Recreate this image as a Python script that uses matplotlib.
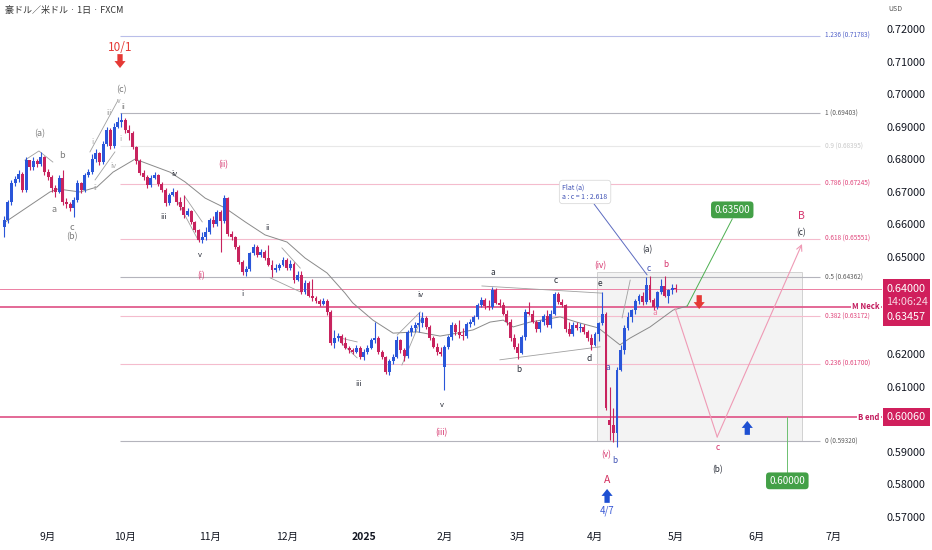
import numpy as np
import pandas as pd
import matplotlib
matplotlib.use("Agg")
import matplotlib.pyplot as plt
from matplotlib.transforms import blended_transform_factory
from matplotlib.patches import Rectangle

plt.rcParams['font.family'] = ['Noto Sans CJK JP', 'DejaVu Sans']

# daily bars (FXCM, no Christmas / New Year bar), price in pips (x 1e-4)
opens = [
    6590, 6613, 6668, 6727, 6740, 6755, 6705, 6797, 6775, 6795, 6786, 6808,
    6760, 6745, 6710, 6700, 6742, 6668, 6662, 6650, 6674, 6727, 6705, 6751, 6760, 6800, 6818, 6790, 6845, 6890, 6840, 6900, 6915,
    6920, 6890, 6880, 6837, 6795, 6757, 6745, 6720, 6742, 6750, 6725, 6705, 6665, 6690, 6700, 6668, 6653, 6628, 6640, 6607, 6582, 6551, 6560,
    6575, 6613, 6600, 6637, 6610, 6680, 6570, 6560, 6530, 6484, 6453, 6462, 6511, 6530, 6505, 6515, 6496, 6475, 6460, 6465, 6475,
    6490, 6465, 6478, 6428, 6445, 6390, 6420, 6380, 6372, 6365, 6355, 6365, 6330, 6236, 6250, 6255, 6235, 6220, 6212, 6208, 6220,
    6192, 6207, 6219, 6244, 6250, 6207, 6192, 6146, 6178, 6192, 6244, 6213, 6195, 6269, 6281, 6290, 6296, 6312, 6284, 6250, 6223, 6207,
    6161, 6223, 6253, 6290, 6268, 6258, 6255, 6293, 6300, 6315, 6352, 6368, 6348, 6345, 6398, 6358, 6352, 6325, 6300, 6250,
    6222, 6205, 6253, 6330, 6325, 6300, 6278, 6298, 6318, 6290, 6325, 6385, 6360, 6350, 6278, 6262, 6290, 6280, 6285, 6270, 6250,
    6230, 6262, 6295, 6325, 5998, 5983, 5958, 6152, 6213, 6280, 6315, 6335, 6365, 6380, 6360, 6413, 6368, 6345, 6392, 6410, 6380, 6398,
    6405,
]
highs = [
    6625, 6675, 6735, 6748, 6765, 6760, 6805, 6798, 6805, 6800, 6822, 6810,
    6770, 6750, 6720, 6750, 6767, 6680, 6668, 6685, 6735, 6730, 6758, 6770, 6815, 6830, 6822, 6855, 6900, 6895, 6910, 6930, 6942,
    6925, 6905, 6885, 6840, 6800, 6765, 6750, 6750, 6760, 6755, 6730, 6710, 6695, 6710, 6705, 6682, 6690, 6650, 6645, 6610, 6585, 6575, 6590,
    6620, 6625, 6645, 6645, 6690, 6685, 6580, 6565, 6535, 6490, 6470, 6515, 6540, 6535, 6525, 6520, 6536, 6490, 6478, 6480, 6500,
    6495, 6490, 6485, 6455, 6455, 6428, 6425, 6430, 6380, 6370, 6372, 6370, 6335, 6275, 6265, 6262, 6252, 6225, 6220, 6228, 6225,
    6215, 6228, 6250, 6299, 6255, 6212, 6195, 6185, 6200, 6255, 6248, 6220, 6275, 6290, 6300, 6330, 6330, 6318, 6290, 6255, 6235, 6222,
    6230, 6260, 6300, 6295, 6305, 6280, 6300, 6310, 6320, 6358, 6375, 6372, 6368, 6408, 6405, 6370, 6360, 6335, 6310, 6262,
    6235, 6260, 6340, 6362, 6335, 6305, 6305, 6325, 6335, 6335, 6392, 6390, 6370, 6355, 6300, 6300, 6300, 6295, 6292, 6275, 6262,
    6270, 6300, 6392, 6330, 6100, 6035, 6160, 6230, 6290, 6330, 6340, 6370, 6385, 6390, 6438, 6440, 6372, 6395, 6430, 6440, 6400, 6415,
    6415,
]
lows = [
    6561, 6605, 6660, 6718, 6730, 6698, 6700, 6765, 6768, 6775, 6780, 6752,
    6735, 6700, 6684, 6695, 6660, 6650, 6640, 6622, 6668, 6695, 6700, 6745, 6755, 6790, 6782, 6785, 6840, 6830, 6835, 6895, 6900,
    6880, 6860, 6830, 6785, 6750, 6735, 6710, 6715, 6738, 6718, 6698, 6655, 6660, 6688, 6660, 6645, 6620, 6625, 6600, 6575, 6545, 6542, 6550,
    6570, 6590, 6595, 6515, 6605, 6565, 6550, 6525, 6478, 6444, 6440, 6455, 6505, 6500, 6498, 6490, 6470, 6438, 6452, 6458, 6470,
    6460, 6458, 6420, 6425, 6385, 6385, 6375, 6365, 6358, 6348, 6350, 6322, 6230, 6220, 6240, 6230, 6215, 6205, 6200, 6203, 6185,
    6183, 6200, 6215, 6235, 6200, 6185, 6140, 6136, 6170, 6188, 6205, 6180, 6190, 6255, 6270, 6270, 6285, 6278, 6243, 6218, 6198, 6195,
    6090, 6215, 6245, 6260, 6250, 6245, 6250, 6285, 6290, 6310, 6345, 6340, 6335, 6340, 6355, 6345, 6320, 6290, 6240, 6215,
    6187, 6200, 6245, 6320, 6295, 6270, 6270, 6290, 6285, 6280, 6320, 6355, 6345, 6270, 6255, 6255, 6275, 6270, 6262, 6240, 6212,
    6225, 6240, 6290, 6030, 5935, 5930, 5915, 6150, 6200, 6275, 6300, 6325, 6355, 6350, 6355, 6360, 6335, 6340, 6385, 6375, 6358, 6385,
    6392,
]
closes = [
    6613, 6668, 6727, 6740, 6755, 6705, 6797, 6775, 6795, 6786, 6808, 6760,
    6745, 6710, 6700, 6742, 6668, 6662, 6650, 6674, 6727, 6705, 6751, 6760, 6800, 6818, 6790, 6845, 6890, 6840, 6900, 6915, 6920,
    6890, 6880, 6837, 6795, 6757, 6745, 6720, 6742, 6750, 6725, 6705, 6665, 6690, 6700, 6668, 6653, 6628, 6640, 6607, 6582, 6551, 6560, 6575,
    6613, 6600, 6637, 6610, 6680, 6570, 6560, 6530, 6484, 6453, 6462, 6511, 6530, 6505, 6515, 6496, 6475, 6460, 6465, 6475, 6490,
    6465, 6478, 6428, 6445, 6390, 6420, 6380, 6372, 6365, 6355, 6365, 6330, 6236, 6250, 6255, 6235, 6220, 6212, 6208, 6220, 6192,
    6207, 6219, 6244, 6250, 6207, 6192, 6146, 6178, 6192, 6244, 6213, 6195, 6269, 6281, 6290, 6296, 6312, 6284, 6250, 6223, 6207, 6200,
    6223, 6253, 6290, 6268, 6258, 6255, 6293, 6300, 6315, 6352, 6368, 6348, 6345, 6398, 6358, 6352, 6325, 6300, 6250, 6222,
    6205, 6253, 6330, 6325, 6300, 6278, 6298, 6318, 6290, 6325, 6385, 6360, 6350, 6278, 6262, 6290, 6280, 6285, 6270, 6250, 6230,
    6262, 6295, 6325, 6035, 5983, 5958, 6152, 6213, 6280, 6315, 6335, 6365, 6380, 6360, 6413, 6368, 6345, 6392, 6410, 6380, 6398, 6405,
    6400,
]

# higher-timeframe average (bar index, price)
ma_bar = [0, 12.5, 14.7, 20.7, 25.3, 29.7, 35.7, 45.2, 49.3, 54.8, 60.2, 65.7, 71.1, 77.1, 82, 88,
          92.9, 95, 100.5, 106, 112.5, 118.8, 123.4, 127.8, 132.4, 136, 138.7, 143.3, 151.5, 156,
          161.9, 164.3, 167.8, 170.6, 176, 182.3, 186]
ma_val = [0.6604, 0.6699, 0.6708, 0.6699, 0.6714, 0.6760, 0.6800, 0.6760, 0.6730, 0.6680, 0.6650,
          0.6607, 0.6567, 0.6545, 0.6496, 0.6450, 0.6388, 0.6358, 0.6305, 0.6265, 0.6269, 0.6256,
          0.6265, 0.6275, 0.6299, 0.6305, 0.6284, 0.6299, 0.6315, 0.6299, 0.6281, 0.6260, 0.6229,
          0.6250, 0.6284, 0.6336, 0.6348]

fib_levels = [1.236, 1, 0.9, 0.786, 0.618, 0.5, 0.382, 0.236, 0]
fib_prices = [0.71783, 0.69403, 0.68395, 0.67245, 0.65551, 0.64362, 0.63172, 0.61700, 0.59320]
fib_line_col = ['#b9bee9', '#b4b4bc', '#e8e8e8', '#f4bccd', '#f4bccd', '#b4b4bc', '#f4bccd', '#f4bccd', '#b4b4bc']
fib_text_col = ['#5060c8', '#5a5a5a', '#c8c8c8', '#e0457b', '#e0457b', '#5a5a5a', '#e0457b', '#e0457b', '#5a5a5a']

# axis ticks (the ones covered by the price tags are left out)
price_ticks = [0.57, 0.58, 0.59, 0.61, 0.62, 0.65, 0.66, 0.67, 0.68, 0.69, 0.70, 0.71, 0.72]

last_price = 0.64000
m_neck = 0.63457
b_end = 0.60060
target_up = 0.63500
target_down = 0.60000

UP = '#2a56d9'
DOWN = '#c8235e'
PINK = '#d6336c'
DARK = '#2a2e39'
GRAY = '#7a7a7a'
LIGHT = '#a8a8a8'
BLUE = '#3f51b5'

o = np.array(opens) / 1e4
h = np.array(highs) / 1e4
l = np.array(lows) / 1e4
c = np.array(closes) / 1e4
x = np.arange(len(c))

days = pd.bdate_range('2024-08-15', '2025-07-31')
days = days[~days.isin(pd.to_datetime(['2024-12-25', '2025-01-01']))]

fig = plt.figure(figsize=(9.32, 5.5), dpi=100)
ax = fig.add_axes([0, 25 / 550, 882 / 932, 525 / 550])
ax.set_xlim(-1.1, 239.2)
ax.set_ylim(0.56752, 0.72891)
for s in ax.spines.values():
    s.set_visible(False)

# fib retracement
fib_start = int(np.argmax(h[:60])) - 0.4
for lv, p, lc, tc in zip(fib_levels, fib_prices, fib_line_col, fib_text_col):
    ax.hlines(p, fib_start, 222.3, color=lc, lw=0.8, zorder=1)
    ax.text(223.8, p, f"{lv:g} ({p:.5f})", color=tc, fontsize=4.6, va='center', ha='left')

# box around the recent range
ax.add_patch(Rectangle((161.6, fib_prices[-1]), 217.4 - 161.6, 0.6452 - fib_prices[-1],
                       fc='#efefef', ec='#c4c4c4', lw=0.7, alpha=0.75, zorder=0.5))

# horizontal key lines
ax.axhline(last_price, color='#ec7fa3', lw=0.7, zorder=1)
ax.axhline(m_neck, color='#e0588a', lw=1.4, alpha=0.9, zorder=1)
ax.axhline(b_end, color='#e0588a', lw=1.4, alpha=0.9, zorder=1)
ax.text(238.6, m_neck, 'M Neck', color='#c2185b', fontsize=5.5, style='italic', weight='bold',
        ha='right', va='center', bbox=dict(fc='white', ec='none', pad=1), zorder=5)
ax.text(238.6, b_end, 'B end', color='#c2185b', fontsize=5.5, style='italic', weight='bold',
        ha='right', va='center', bbox=dict(fc='white', ec='none', pad=1), zorder=5)

# average line
ax.plot(ma_bar, ma_val, color='#8a8a8a', lw=0.7, zorder=2)

# candles
col = np.where(c >= o, UP, DOWN)
ax.vlines(x, l, h, colors=col, lw=0.8, zorder=3)
ax.bar(x, np.maximum(np.abs(c - o), 0.0002), bottom=np.minimum(o, c), width=0.8,
       color=col, lw=0, zorder=4)

# drawn pattern lines
gray_lines = [
    [(5.7, 0.6797), (9.5, 0.6825), (13.3, 0.6791)],
    [(23.4, 0.6822), (31.1, 0.6982)],
    [(24.8, 0.6736), (30.2, 0.6822)],
    [(46.6, 0.6684), (52.9, 0.6551)],
    [(49.3, 0.6684), (54.0, 0.6607)],
    [(72.5, 0.6435), (80.7, 0.6392)],
    [(75.7, 0.6527), (80.7, 0.6465)],
    [(91.6, 0.6250), (96.2, 0.6238)],
    [(91.6, 0.6238), (96.2, 0.6189)],
    [(107.1, 0.6259), (113.4, 0.6330)],
    [(108.4, 0.6167), (113.9, 0.6315)],
    [(130.2, 0.6410), (162.9, 0.6388)],
    [(135.1, 0.6183), (162.4, 0.6223)],
    [(168.4, 0.6312), (170.6, 0.6428)],
]
for seg in gray_lines:
    xs, ys = zip(*seg)
    ax.plot(xs, ys, color='#a0a0a0', lw=0.6, zorder=2)

# projected path
proj_x = [182.8, 194.3]
proj_y = [0.6342, 0.5946]
ax.plot(proj_x, proj_y, color='#ef9ab5', lw=0.8, zorder=2)
ax.annotate('', xy=(217.4, 0.6539), xytext=(194.3, 0.5946),
            arrowprops=dict(arrowstyle='->', color='#ef9ab5', lw=0.8, shrinkA=0, shrinkB=0))

# targets
ax.plot([186.1, 198.4], [m_neck + 0.0002, 0.6616], color='#4caf50', lw=0.7, zorder=2)
ax.plot([213.4, 213.4], [b_end, 0.5838], color='#6cc070', lw=0.7, zorder=2)
ax.text(198.4, 0.6644, f"{target_up:.5f}", color='white', fontsize=7, ha='center', va='center',
        bbox=dict(boxstyle='round,pad=0.35', fc='#43a047', ec='none'), zorder=6)
ax.text(213.4, 0.5811, f"{target_down:.5f}", color='white', fontsize=7, ha='center', va='center',
        bbox=dict(boxstyle='round,pad=0.35', fc='#43a047', ec='none'), zorder=6)

# callout
ax.annotate("Flat (a)\na : c = 1 : 2.618", xy=(175.2, 0.6444), xytext=(158.3, 0.6699),
            fontsize=5, color=BLUE, ha='center', va='center', multialignment='left',
            bbox=dict(boxstyle='round,pad=0.45', fc='white', ec='#d4d4d4', lw=0.5),
            arrowprops=dict(arrowstyle='-', color='#5c6bc0', lw=0.7, shrinkA=0, shrinkB=0), zorder=6)

# block arrows
def arrow(xb, tip, direction, color):
    ax.annotate('', xy=(xb, tip), xytext=(0, -10 * direction), textcoords='offset points',
                arrowprops=dict(arrowstyle='simple,head_width=0.8,head_length=0.5,tail_width=0.38',
                                color=color, lw=0, shrinkA=0, shrinkB=0), zorder=7)

arrow(31.6, 0.7080, -1, '#e53935')
arrow(189.4, 0.6339, -1, '#e53935')
arrow(202.5, 0.5995, 1, '#1e50d2')
arrow(164.3, 0.5786, 1, '#1e50d2')
ax.text(31.6, 0.7142, '10/1', color='#e53935', fontsize=8.5, style='italic', ha='center', va='center')
ax.text(164.3, 0.5718, '4/7', color='#3a5ad6', fontsize=7, style='italic', ha='center', va='center')

# wave labels (text, bar, price, colour, size)
wave_labels = [
    ('(c)', 32, 0.7013, GRAY, 6.5), ('v', 31.3, 0.6979, LIGHT, 5), ('ii', 32.4, 0.6960, GRAY, 5),
    ('iii', 28.6, 0.6942, LIGHT, 5), ('i', 24, 0.6853, LIGHT, 5.5), ('i', 31.6, 0.6862, LIGHT, 5.5),
    ('iv', 29.7, 0.6779, LIGHT, 5.5), ('ii', 24.8, 0.6711, LIGHT, 5),
    ('(a)', 9.8, 0.6877, GRAY, 6.5), ('b', 15.8, 0.6810, GRAY, 6.5), ('a', 13.6, 0.6644, GRAY, 6.5),
    ('c', 18.5, 0.6591, GRAY, 6.5), ('(b)', 18.5, 0.6561, GRAY, 6.5),
    ('iii', 43.6, 0.6622, DARK, 5.5), ('iv', 46.3, 0.6754, DARK, 5.5), ('(ii)', 59.7, 0.6782, PINK, 6),
    ('ii', 71.7, 0.6588, DARK, 5.5), ('v', 53.4, 0.6505, DARK, 5.5), ('(i)', 53.7, 0.6441, PINK, 6),
    ('i', 64.9, 0.6385, DARK, 5.5), ('iii', 96.5, 0.6109, DARK, 5.5), ('iv', 113.4, 0.6382, DARK, 5.5),
    ('v', 119.3, 0.6044, DARK, 5.5), ('(iii)', 119.1, 0.5958, PINK, 6),
    ('a', 133.2, 0.6450, DARK, 6), ('b', 140.3, 0.6152, DARK, 6), ('c', 150.4, 0.6428, DARK, 6),
    ('d', 159.4, 0.6186, DARK, 6), ('e', 162.4, 0.6419, DARK, 6), ('(iv)', 162.4, 0.6471, PINK, 6),
    ('(a)', 175.2, 0.6521, DARK, 6), ('c', 175.5, 0.6465, BLUE, 6), ('b', 180.4, 0.6475, PINK, 6),
    ('a', 177.4, 0.6327, '#ef7fa3', 6), ('a', 164.6, 0.6158, BLUE, 6), ('(v)', 164.0, 0.5890, PINK, 6),
    ('b', 166.5, 0.5875, BLUE, 6), ('A', 164.3, 0.5814, '#d32f5f', 7.5),
    ('c', 194.3, 0.5912, PINK, 6), ('(b)', 194.3, 0.5844, DARK, 6),
    ('B', 217.2, 0.6625, PINK, 7.5), ('(c)', 217.2, 0.6573, DARK, 6),
]
for t, bx, py, cl, fs in wave_labels:
    ax.text(bx, py, t, color=cl, fontsize=fs, ha='center', va='center', zorder=6)

# x axis: month starts
pos = pd.Series(np.arange(len(days)), index=days)
firsts = pos.groupby([days.year, days.month]).first().iloc[1:]
ax.set_xticks(firsts.values)
ax.set_xticklabels(['2025' if m == 1 else f'{m}月' for (y, m) in firsts.index])
ax.tick_params(axis='x', length=0, pad=5, labelsize=7.5, colors='#131722')
for lab in ax.get_xticklabels():
    if lab.get_text() == '2025':
        lab.set_fontweight('bold')

# y axis on the right
ax.yaxis.tick_right()
ax.set_yticks(price_ticks)
ax.yaxis.set_major_formatter(plt.FormatStrFormatter('%.5f'))
ax.tick_params(axis='y', length=0, pad=3.5, labelsize=7.8, colors='#131722')

# price tags on the axis
bt = blended_transform_factory(ax.transAxes, ax.transData)
px = 1 / 3253
ax.add_patch(Rectangle((1.001, last_price - 37 * px), 0.053, 47 * px, transform=bt,
                       fc='#d01f5c', ec='none', clip_on=False, zorder=8))
ax.add_patch(Rectangle((1.001, b_end - 9 * px), 0.053, 18 * px, transform=bt,
                       fc='#d01f5c', ec='none', clip_on=False, zorder=8))
ax.text(1.005, last_price, f"{last_price:.5f}", transform=bt, color='white', fontsize=7.8,
        va='center', ha='left', zorder=9)
ax.text(1.005, last_price - 13 * px, '14:06:24', transform=bt, color='#f7d3e0', fontsize=7.8,
        va='center', ha='left', zorder=9)
ax.text(1.005, last_price - 28 * px, f"{m_neck:.5f}", transform=bt, color='white', fontsize=7.8,
        va='center', ha='left', zorder=9)
ax.text(1.005, b_end, f"{b_end:.5f}", transform=bt, color='white', fontsize=7.8,
        va='center', ha='left', zorder=9)

fig.text(5 / 932, 1 - 10 / 550, '豪ドル／米ドル · 1日 · FXCM', fontsize=6.5, color='#333333', va='center')
fig.text(888 / 932, 1 - 9 / 550, 'USD', fontsize=5, color='#555555', va='center')

fig.savefig('out.png', dpi=100)
